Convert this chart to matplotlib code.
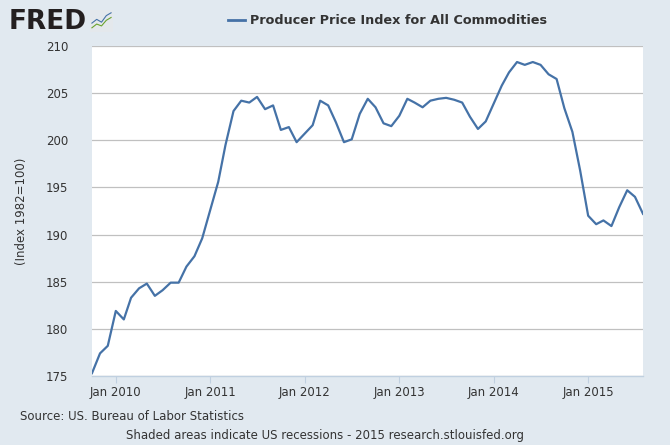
import numpy as np
import pandas as pd
import matplotlib
matplotlib.use("Agg")
import matplotlib.pyplot as plt
import matplotlib.dates as mdates

# ------------------------------------------------------------
# Data: PPI all commodities, monthly, Oct 2009 - Aug 2015
# ------------------------------------------------------------
start_month = "2009-10-01"
ppi = [
    175.3, 177.4, 178.2,
    181.9, 181.0, 183.3, 184.3, 184.8, 183.5, 184.1, 184.9, 184.9, 186.6, 187.7, 189.6,
    192.6, 195.6, 199.5, 203.1, 204.2, 204.0, 204.6, 203.3, 203.7, 201.1, 201.4, 199.8,
    200.7, 201.6, 204.2, 203.7, 201.9, 199.8, 200.1, 202.8, 204.4, 203.5, 201.8, 201.5,
    202.6, 204.4, 204.0, 203.5, 204.2, 204.4, 204.5, 204.3, 204.0, 202.5, 201.2, 202.0,
    203.9, 205.8, 207.2, 208.3, 208.0, 208.3, 208.0, 207.0, 206.5, 203.4, 200.9, 196.8,
    192.0, 191.1, 191.5, 190.9, 192.9, 194.7, 194.0, 192.2,
]
dates = pd.date_range(start_month, periods=len(ppi), freq="MS")

y_ticks = [175, 180, 185, 190, 195, 200, 205, 210]
x_tick_years = [2010, 2011, 2012, 2013, 2014, 2015]

series_name = "Producer Price Index for All Commodities"
y_label = "(Index 1982=100)"
source_text = "Source: US. Bureau of Labor Statistics"
footer_text = "Shaded areas indicate US recessions - 2015 research.stlouisfed.org"

# ------------------------------------------------------------
# Styling
# ------------------------------------------------------------
bg = "#E1E9F0"
line_color = "#4572A7"
grid_color = "#C0C0C0"
text_color = "#333333"

plt.rcParams["font.family"] = ["DejaVu Sans"]

fig = plt.figure(figsize=(6.7, 4.45), dpi=100, facecolor=bg)
ax = fig.add_axes([92 / 670, 1 - 376 / 445, (643 - 92) / 670, (376 - 46) / 445])
ax.set_facecolor("white")

ax.plot(dates, ppi, color=line_color, lw=1.6, solid_joinstyle="round")

ax.set_ylim(175, 210)
ax.set_xlim(dates[0], dates[-1])
ax.set_yticks(y_ticks)
ax.yaxis.grid(True, color=grid_color, lw=0.9)
ax.set_axisbelow(True)

ax.set_xticks([pd.Timestamp(f"{y}-01-01") for y in x_tick_years])
ax.xaxis.set_major_formatter(mdates.DateFormatter("%b %Y"))

for side in ["left", "right", "top"]:
    ax.spines[side].set_visible(False)
ax.spines["bottom"].set_color("#C0D0E0")
ax.spines["bottom"].set_linewidth(1.0)

ax.tick_params(axis="y", length=0, pad=17, labelsize=8.5, labelcolor=text_color)
ax.tick_params(axis="x", length=5, color="#C0D0E0", labelsize=8.5,
               labelcolor=text_color, pad=2)

fig.text(22 / 670, 1 - 211 / 445, y_label, rotation=90, ha="center", va="center",
         fontsize=8.5, color=text_color)

# legend at the top
fig.lines.append(plt.Line2D([228 / 670, 245 / 670], [1 - 20 / 445] * 2,
                            color=line_color, lw=2, transform=fig.transFigure))
fig.text(250 / 670, 1 - 20 / 445, series_name, ha="left", va="center",
         fontsize=9.2, fontweight="bold", color=text_color)

# FRED logo
fig.text(9 / 670, 1 - 22 / 445, "FRED", ha="left", va="center",
         fontsize=19, fontweight="heavy", color="#231F20")
icon = fig.add_axes([90 / 670, 1 - 32 / 445, 23 / 670, 22 / 445])
icon.set_facecolor("#E4E8EC")
icon.plot([0, 1, 2, 3, 4], [1.6, 2.4, 1.8, 3.2, 3.8], color="#4572A7", lw=0.8)
icon.plot([0, 1, 2, 3, 4], [0.6, 1.4, 1.0, 2.2, 2.8], color="#6BA32E", lw=0.8)
icon.set_xlim(-0.4, 4.4)
icon.set_ylim(-0.3, 4.4)
icon.set_xticks([])
icon.set_yticks([])
for s in icon.spines.values():
    s.set_visible(False)

# footer
fig.text(20 / 670, 1 - 417 / 445, source_text, ha="left", va="center",
         fontsize=8.5, color=text_color)
fig.text(325 / 670, 1 - 436 / 445, footer_text, ha="center", va="center",
         fontsize=8.5, color=text_color)

fig.savefig("out.png", dpi=100, facecolor=bg)
